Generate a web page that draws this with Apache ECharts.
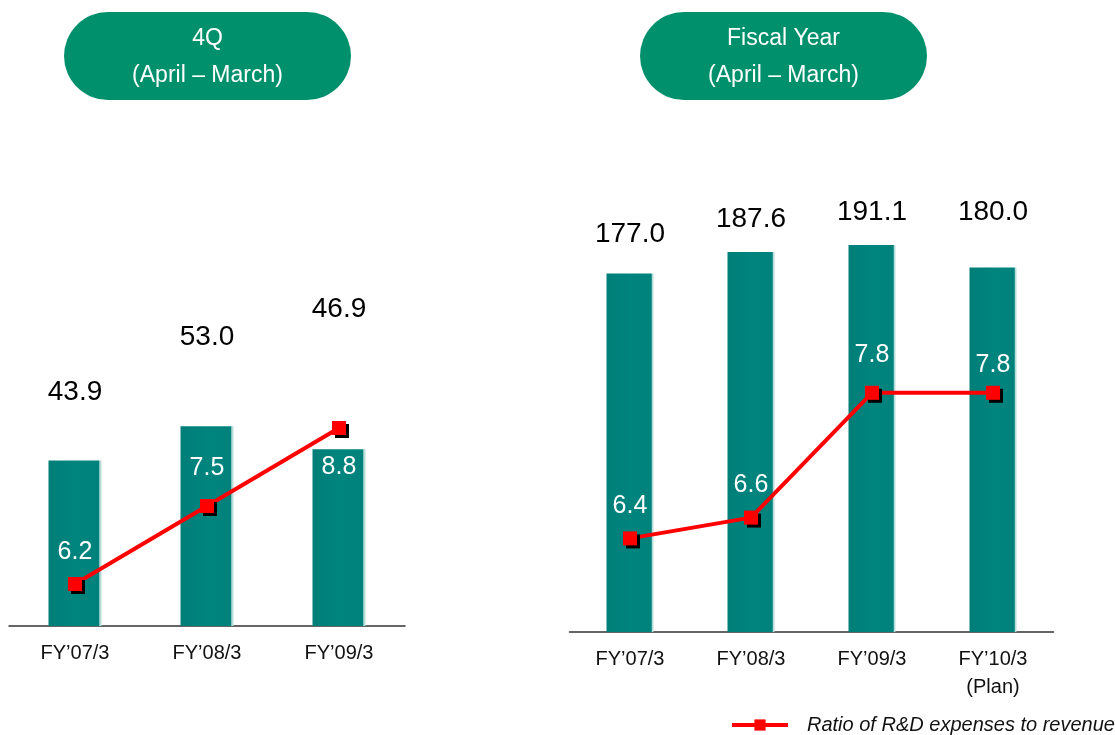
<!DOCTYPE html>
<html>
<head>
<meta charset="utf-8">
<script src="https://cdn.jsdelivr.net/npm/echarts@6/dist/echarts.min.js"></script>
<style>
  html, body { margin: 0; padding: 0; background: #fff; }
  #chart { width: 1115px; height: 735px; }
</style>
</head>
<body>
<div id="chart"></div>
<script>
// 4Q (April - March)
const qCategories = ['FY\u201907/3', 'FY\u201908/3', 'FY\u201909/3'];
const qExpenses = [43.9, 53.0, 46.9];
const qRatio = [6.2, 7.5, 8.8];

// Fiscal Year (April - March)
const fyCategories = ['FY\u201907/3', 'FY\u201908/3', 'FY\u201909/3', 'FY\u201910/3\n(Plan)'];
const fyExpenses = [177.0, 187.6, 191.1, 180.0];
const fyRatio = [6.4, 6.6, 7.8, 7.8];

const legendName = 'Ratio of R&D expenses to revenue';

// label placement (styling only)
const qBarLabelGap = [54, 75, 126];
const fyBarLabelGap = [25, 19, 19, 41];
const qLinePos = ['top', 'top', 'bottom'];
const qLineGap = [12, 18, 20];
const fyLinePos = ['top', 'top', 'top', 'top'];
const fyLineGap = [13, 13, 18, 8];

const FONT = '"Liberation Sans", Arial, sans-serif';
const barColor = {
  type: 'linear', x: 0, y: 0, x2: 1, y2: 0,
  colorStops: [
    { offset: 0, color: '#007E78' },
    { offset: 0.5, color: '#00847E' },
    { offset: 0.955, color: '#00827C' },
    { offset: 0.965, color: '#B8DEDB' },
    { offset: 1, color: '#B8DEDB' }
  ]
};

const barData = (vals, gaps) => vals.map((v, i) => ({
  value: v,
  label: { distance: gaps[i] }
}));
const lineData = (vals, pos, gaps) => vals.map((v, i) => ({
  value: v,
  label: { position: pos[i], distance: gaps[i] }
}));

const barSeries = (xi, yi, vals, gaps, width) => ({
  type: 'bar',
  xAxisIndex: xi,
  yAxisIndex: yi,
  data: barData(vals, gaps),
  barWidth: width,
  itemStyle: { color: barColor },
  label: {
    show: true,
    position: 'top',
    color: '#000',
    fontSize: 28,
    fontFamily: FONT,
    formatter: p => p.value.toFixed(1)
  },
  silent: true,
  z: 2
});

const lineSeries = (xi, yi, vals, pos, gaps) => ({
  name: legendName,
  type: 'line',
  xAxisIndex: xi,
  yAxisIndex: yi,
  data: lineData(vals, pos, gaps),
  symbol: 'rect',
  symbolSize: 14,
  lineStyle: { color: '#FF0000', width: 4 },
  itemStyle: {
    color: '#FF0000',
    shadowColor: '#000',
    shadowOffsetX: 3,
    shadowOffsetY: 3,
    shadowBlur: 0
  },
  label: {
    show: true,
    color: '#fff',
    fontSize: 25,
    fontFamily: FONT,
    formatter: p => p.value.toFixed(1)
  },
  z: 5
});

const catAxis = (gi, data) => ({
  type: 'category',
  gridIndex: gi,
  data: data,
  axisTick: { show: false },
  axisLine: { lineStyle: { color: '#333', width: 1.5 } },
  axisLabel: { color: '#111', fontSize: 20, fontFamily: FONT, margin: 13, lineHeight: 28 }
});

const valAxis = (gi, min, max) => ({
  type: 'value',
  gridIndex: gi,
  min: min,
  max: max,
  show: false
});

const pill = (x, title) => ({
  type: 'group',
  left: x,
  top: 12,
  children: [
    {
      type: 'rect',
      shape: { x: 0, y: 0, width: 287, height: 88, r: 44 },
      style: { fill: '#00906C' }
    },
    {
      type: 'text',
      x: 143.5,
      y: 45,
      style: {
        text: title + '\n(April \u2013 March)',
        fill: '#fff',
        font: '23px ' + FONT,
        lineHeight: 37,
        align: 'center',
        verticalAlign: 'middle'
      }
    }
  ]
});

const chart = echarts.init(document.getElementById('chart'));
chart.setOption({
  animation: false,
  textStyle: { fontFamily: FONT },
  grid: [
    { left: 9, width: 396, top: 266, height: 360 },
    { left: 569.5, width: 484, top: 216, height: 416 }
  ],
  xAxis: [catAxis(0, qCategories), catAxis(1, fyCategories)],
  yAxis: [
    valAxis(0, 0, 95.5),
    valAxis(0, 5.5, 11.5),
    valAxis(1, 0, 205.4),
    valAxis(1, 5.5, 9.5)
  ],
  legend: {
    data: [legendName],
    left: 725,
    top: 710,
    itemWidth: 56,
    itemHeight: 14,
    lineStyle: { width: 4 },
    textStyle: { fontSize: 20, fontStyle: 'italic', color: '#111', fontFamily: FONT, padding: [0, 0, 0, 14] }
  },
  graphic: [pill(64, '4Q'), pill(640, 'Fiscal Year')],
  series: [
    barSeries(0, 0, qExpenses, qBarLabelGap, 53),
    lineSeries(0, 1, qRatio, qLinePos, qLineGap),
    barSeries(1, 2, fyExpenses, fyBarLabelGap, 47),
    lineSeries(1, 3, fyRatio, fyLinePos, fyLineGap)
  ]
});
</script>
</body>
</html>
